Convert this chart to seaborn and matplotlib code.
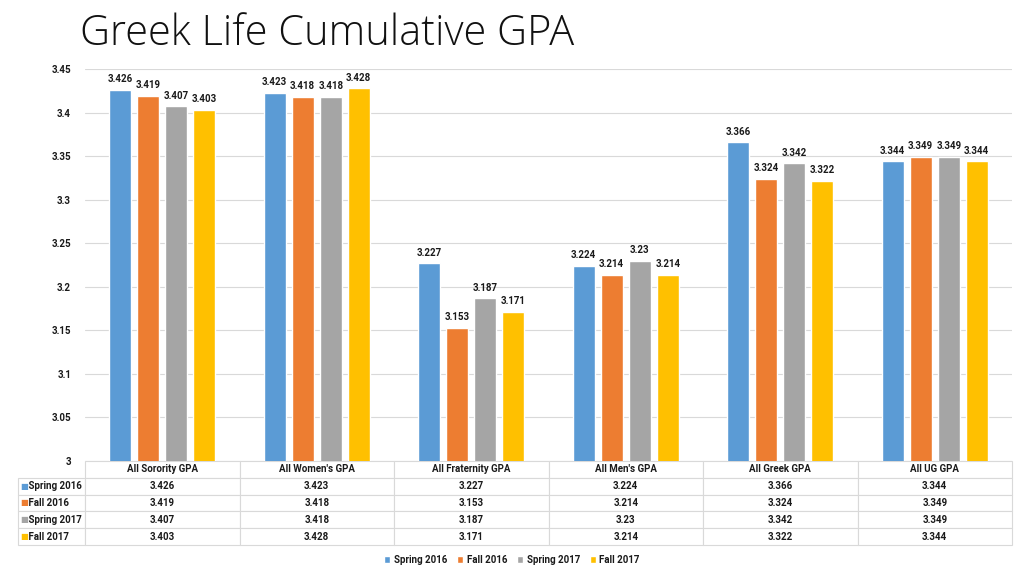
import pandas as pd
import numpy as np
import matplotlib
matplotlib.use("Agg")
import matplotlib.pyplot as plt
import seaborn as sns

groups = ["All Sorority GPA", "All Women's GPA", "All Fraternity GPA",
          "All Men's GPA", "All Greek GPA", "All UG GPA"]
terms = ["Spring 2016", "Fall 2016", "Spring 2017", "Fall 2017"]
spring_2016 = [3.426, 3.423, 3.227, 3.224, 3.366, 3.344]
fall_2016 = [3.419, 3.418, 3.153, 3.214, 3.324, 3.349]
spring_2017 = [3.407, 3.418, 3.187, 3.23, 3.342, 3.349]
fall_2017 = [3.403, 3.428, 3.171, 3.214, 3.322, 3.344]
colors = ["#5B9BD5", "#ED7D31", "#A5A5A5", "#FFC000"]
y_ticks = [3, 3.05, 3.1, 3.15, 3.2, 3.25, 3.3, 3.35, 3.4, 3.45]

series = [spring_2016, fall_2016, spring_2017, fall_2017]
df = pd.DataFrame({
    "group": groups * len(terms),
    "term": [t for t in terms for _ in groups],
    "gpa": [v for s in series for v in s],
})

sns.set_theme(style="white")
plt.rcParams["font.family"] = ["Roboto", "DejaVu Sans"]
txt = "#1a1a1a"
small = {"size": 7, "weight": "bold"}

fig = plt.figure(figsize=(10.24, 5.76), dpi=100)
ax = fig.add_axes([85 / 1024, 1 - 461 / 576, 927 / 1024, 392 / 576])

sns.barplot(data=df, x="group", y="gpa", hue="term", hue_order=terms,
            palette=colors, width=0.725, gap=0.2, saturation=1, ax=ax)

handles, labels = ax.get_legend_handles_labels()
ax.get_legend().remove()

for cont in ax.containers:
    ax.bar_label(cont, fmt="%g", padding=4, fontsize=7, fontweight="bold", color=txt)

ax.set_ylim(3, 3.45)
ax.set_yticks(y_ticks)
ax.set_yticklabels([f"{v:g}" for v in y_ticks], fontsize=7, fontweight="bold", color=txt)
ax.set_xlim(-0.5, len(groups) - 0.5)
ax.set_xticks([])
ax.set_xlabel("")
ax.set_ylabel("")
ax.tick_params(axis="y", length=0, pad=10)
ax.yaxis.grid(True, color="#D9D9D9", linewidth=0.8)
ax.set_axisbelow(True)
for s in ax.spines.values():
    s.set_visible(False)

# data table under the bars
label_w = 67 / 927
cell_text = [[""] + groups]
for t, s in zip(terms, series):
    cell_text.append(["    " + t] + [f"{v:g}" for v in s])
tbl_h = 84 / 392
tbl = ax.table(cellText=cell_text,
               colWidths=[label_w] + [1 / len(groups)] * len(groups),
               cellLoc="center",
               bbox=[-label_w, -tbl_h, 1 + label_w, tbl_h])
tbl.auto_set_font_size(False)
for (r, c), cell in tbl.get_celld().items():
    cell.set_edgecolor("#D9D9D9")
    cell.set_linewidth(0.8)
    cell.get_text().set_fontsize(7)
    cell.get_text().set_fontweight("bold")
    cell.get_text().set_color(txt)
    if c == 0:
        cell.get_text().set_ha("left")
        cell._loc = "left"
        cell.PAD = 0.01
    if r == 0 and c == 0:
        cell.visible_edges = ""

row_h = tbl_h / len(cell_text)
for i, col in enumerate(colors):
    ax.text(-label_w + 0.002, -row_h * (i + 1.5), "■", color=col, fontsize=6,
            ha="left", va="center", transform=ax.transAxes,
            family=["DejaVu Sans"])

fig.legend(handles, labels, loc="center", bbox_to_anchor=(0.5, 1 - 560 / 576),
           ncol=4, frameon=False, handlelength=0.6, handleheight=0.6,
           handletextpad=0.4, columnspacing=1.0,
           prop=small, labelcolor=txt)

title = fig.text(80 / 1024, 1 - 45 / 576, "Greek Life Cumulative GPA", fontsize=30,
                 family=["Open Sans", "DejaVu Sans"], fontweight="light",
                 color="#111111", ha="left", va="baseline")
r = fig.canvas.get_renderer()
w = title.get_window_extent(r).width
title.set_fontsize(30 * 495 / w)

fig.savefig("out.png", dpi=100, facecolor="white")
